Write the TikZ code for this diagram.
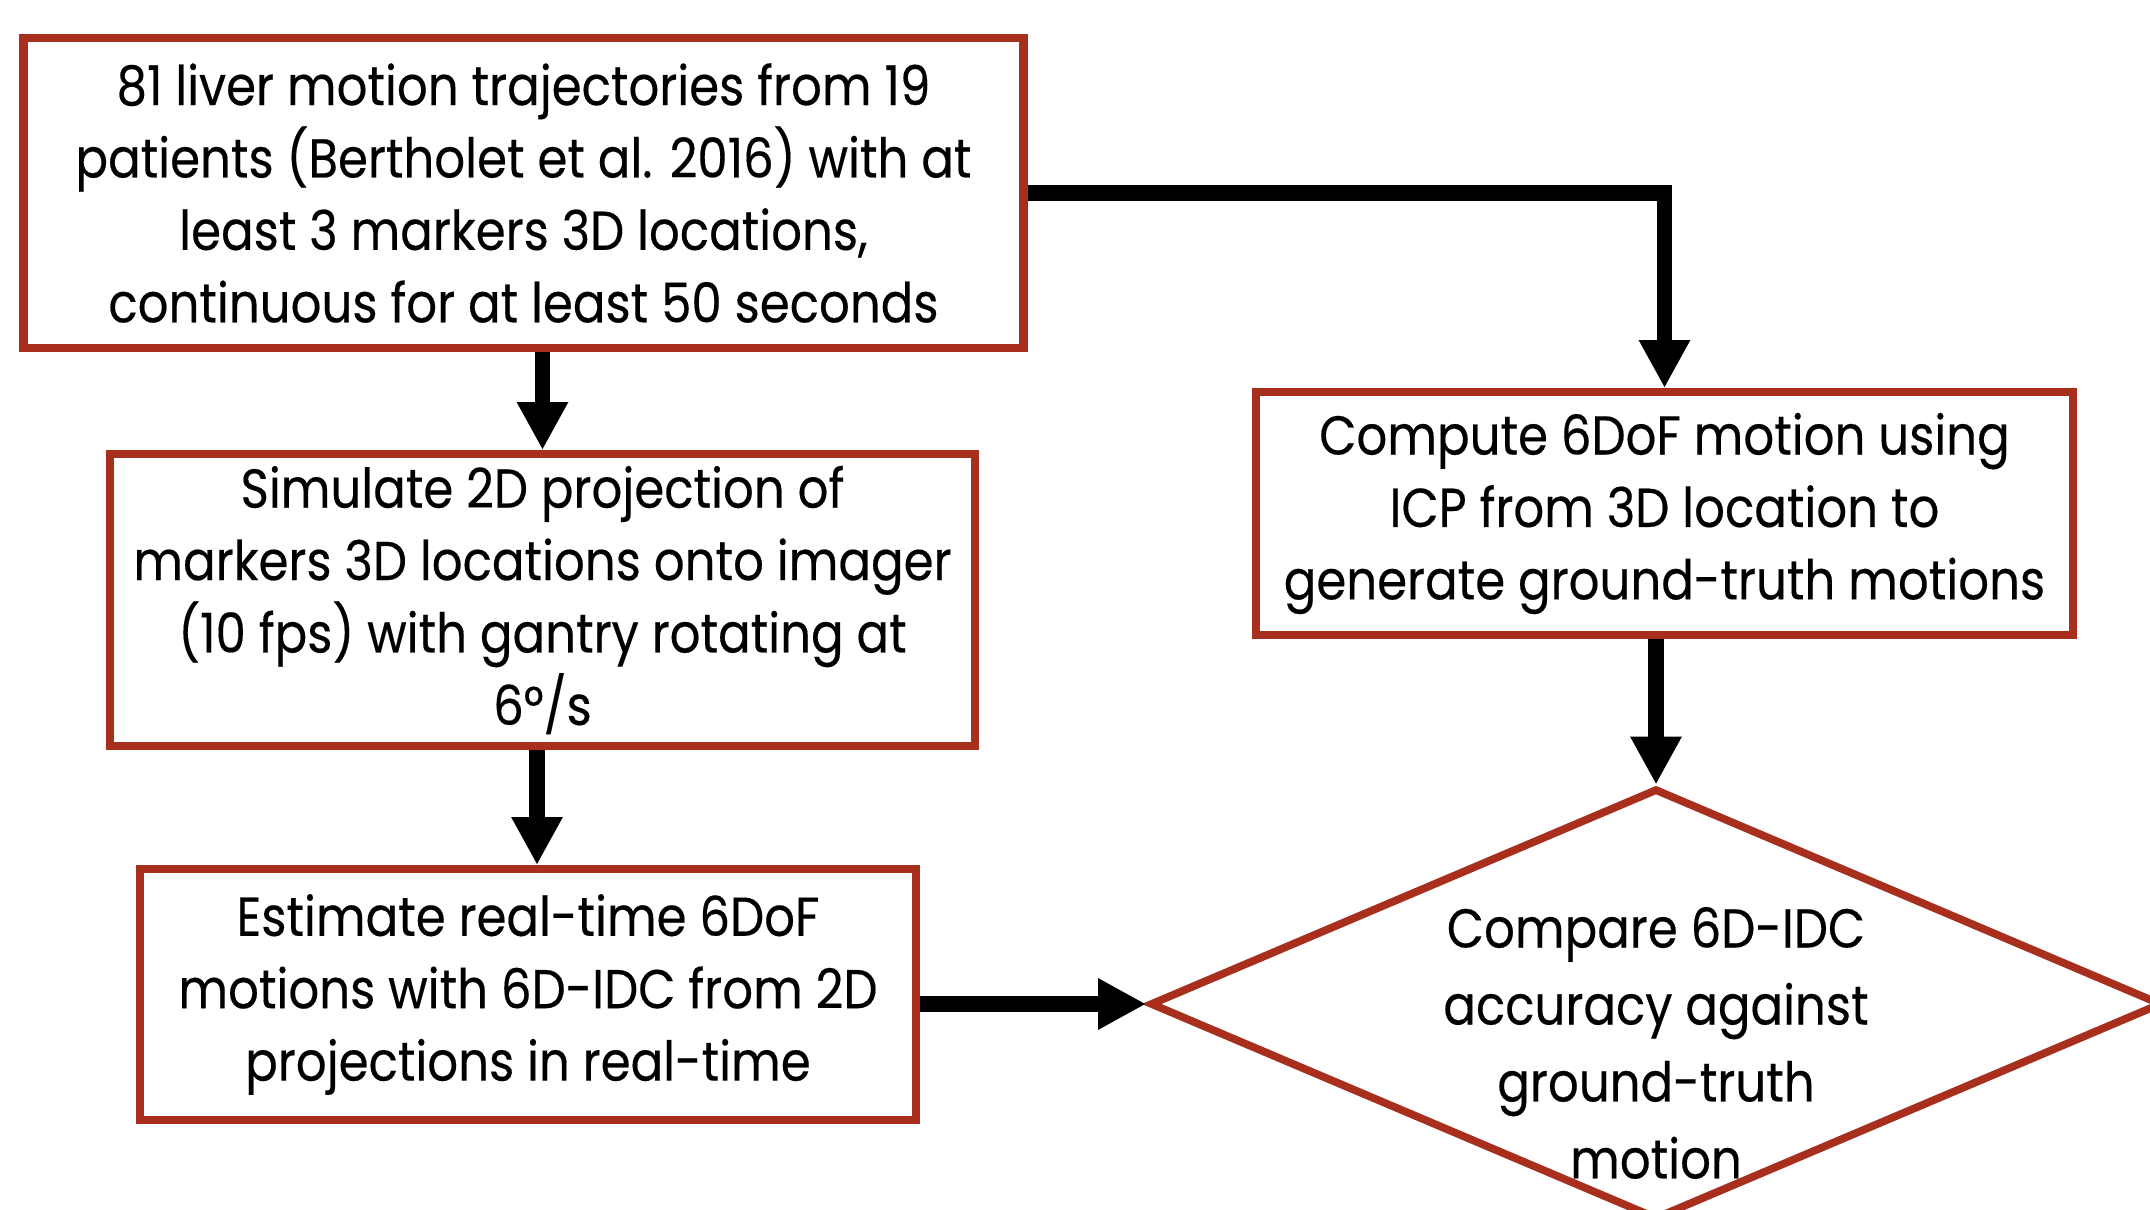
\documentclass[tikz,border=0pt]{standalone}
\usepackage{fontspec}
\setmainfont{Poppins}[FakeStretch=0.88,FakeBold=0.3]
\usetikzlibrary{shapes.geometric,arrows.meta,positioning}
\definecolor{boxred}{RGB}{168,46,29}

\begin{document}
\begin{tikzpicture}[
    procbox/.style={rectangle, draw=boxred, line width=2.4pt, fill=white, align=center, inner sep=0pt, font=\fontsize{15.6}{20.6}\selectfont},
    decision/.style={diamond, draw=boxred, line width=2.2pt, inner sep=0pt},
    flow/.style={-{Triangle[length=0.48cm,width=0.48cm]}, line width=4.3pt}]
    \useasboundingbox (0,0) rectangle (21.5,12.09);
    % Define nodes
    \node [procbox, minimum width=10cm, minimum height=3.095cm] (liver) at (5.235,10.16) {81 liver motion trajectories from 19\\patients (Bertholet et al. 2016) with at\\least 3 markers 3D locations,\\continuous for at least 50 seconds};
    \node [procbox, minimum width=8.645cm, minimum height=2.915cm] (simulate) at (5.425,6.09) {Simulate 2D projection of\\markers 3D locations onto imager\\(10 fps) with gantry rotating at\\6°/s};
    \node [procbox, minimum width=7.755cm, minimum height=2.505cm] (estimate) at (5.28,2.145) {Estimate real-time 6DoF\\motions with 6D-IDC from 2D\\projections in real-time};
    \node [procbox, minimum width=8.165cm, minimum height=2.425cm] (icp) at (16.645,6.955) {Compute 6DoF motion using\\ICP from 3D location to\\generate ground-truth motions};
    \node [decision, minimum width=10.12cm, minimum height=4.31cm] (compare) at (16.56,2.05) {};
    \node [align=center, inner sep=0pt, font=\fontsize{15.6}{21.9}\selectfont] (comparetext) at (16.56,1.66) {Compare 6D-IDC\\accuracy against\\ground-truth\\motion};

    % Draw edges
    \draw [flow] (liver.south -| simulate.north) -- (simulate.north);
    \draw [flow] (simulate.south -| 5.37,0) -- (5.37,0 |- estimate.north);
    \draw [flow] (liver.east) -| (icp.north);
    \draw [flow] (icp.south -| compare.north) -- (compare.north);
    \draw [flow] (estimate.east |- compare.west) -- (compare.west);
\end{tikzpicture}
\end{document}
